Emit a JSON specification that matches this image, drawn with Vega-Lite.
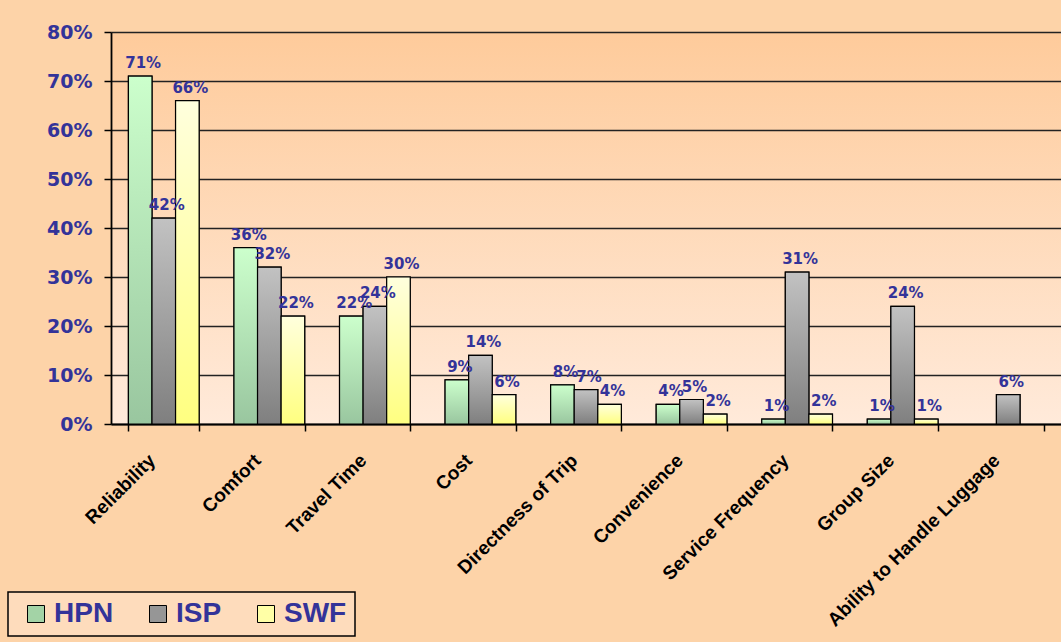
{
  "$schema": "https://vega.github.io/schema/vega-lite/v6.json",
  "width": 950,
  "height": 392,
  "autosize": {"type": "none"},
  "padding": {"left": 111, "top": 32, "right": 0, "bottom": 218},
  "background": "#FDD3A8",
  "config": {
    "view": {
      "stroke": null,
      "fill": {
        "gradient": "linear",
        "x1": 0, "y1": 0, "x2": 0, "y2": 1,
        "stops": [
          {"offset": 0, "color": "#FECB9B"},
          {"offset": 1, "color": "#FFEADA"}
        ]
      }
    },
    "legend": {"strokeWidth": 1.5}
  },
  "data": {
    "values": [
      {"factor": "Reliability", "series": "HPN", "share": 0.71},
      {"factor": "Reliability", "series": "ISP", "share": 0.42},
      {"factor": "Reliability", "series": "SWF", "share": 0.66},
      {"factor": "Comfort", "series": "HPN", "share": 0.36},
      {"factor": "Comfort", "series": "ISP", "share": 0.32},
      {"factor": "Comfort", "series": "SWF", "share": 0.22},
      {"factor": "Travel Time", "series": "HPN", "share": 0.22},
      {"factor": "Travel Time", "series": "ISP", "share": 0.24},
      {"factor": "Travel Time", "series": "SWF", "share": 0.30},
      {"factor": "Cost", "series": "HPN", "share": 0.09},
      {"factor": "Cost", "series": "ISP", "share": 0.14},
      {"factor": "Cost", "series": "SWF", "share": 0.06},
      {"factor": "Directness of Trip", "series": "HPN", "share": 0.08},
      {"factor": "Directness of Trip", "series": "ISP", "share": 0.07},
      {"factor": "Directness of Trip", "series": "SWF", "share": 0.04},
      {"factor": "Convenience", "series": "HPN", "share": 0.04},
      {"factor": "Convenience", "series": "ISP", "share": 0.05},
      {"factor": "Convenience", "series": "SWF", "share": 0.02},
      {"factor": "Service Frequency", "series": "HPN", "share": 0.01},
      {"factor": "Service Frequency", "series": "ISP", "share": 0.31},
      {"factor": "Service Frequency", "series": "SWF", "share": 0.02},
      {"factor": "Group Size", "series": "HPN", "share": 0.01},
      {"factor": "Group Size", "series": "ISP", "share": 0.24},
      {"factor": "Group Size", "series": "SWF", "share": 0.01},
      {"factor": "Ability to Handle Luggage", "series": "ISP", "share": 0.06}
    ]
  },
  "encoding": {
    "x": {
      "field": "factor",
      "type": "nominal",
      "sort": null,
      "scale": {"paddingInner": 0.33, "paddingOuter": 0.165},
      "axis": {
        "title": null,
        "labelAngle": -45,
        "labelAlign": "right",
        "labelBaseline": "middle",
        "labelFont": "Liberation Sans",
        "labelFontSize": 19,
        "labelFontWeight": "bold",
        "labelColor": "#000000",
        "labelPadding": 26,
        "labelOffset": -12,
        "labelLimit": 400,
        "labelOverlap": false,
        "labelBound": false,
        "tickBand": "extent",
        "tickSize": 7,
        "tickWidth": 1.5,
        "tickColor": "#000000",
        "domainColor": "#000000",
        "domainWidth": 1.8
      }
    },
    "xOffset": {
      "field": "series",
      "type": "nominal",
      "sort": ["HPN", "ISP", "SWF"],
      "scale": {"paddingInner": 0, "paddingOuter": 0}
    },
    "y": {
      "field": "share",
      "type": "quantitative",
      "scale": {"domain": [0, 0.8], "nice": false},
      "axis": {
        "title": null,
        "values": [0, 0.1, 0.2, 0.3, 0.4, 0.5, 0.6, 0.7, 0.8],
        "format": ".0%",
        "labelFont": "DejaVu Sans",
        "labelFontSize": 19,
        "labelFontWeight": "bold",
        "labelColor": "#333399",
        "labelPadding": 12,
        "grid": true,
        "gridColor": "#222222",
        "gridWidth": 1.5,
        "domainColor": "#000000",
        "domainWidth": 1.8,
        "tickColor": "#000000",
        "tickSize": 7,
        "tickWidth": 1.5
      }
    }
  },
  "layer": [
    {
      "mark": {"type": "bar", "stroke": "#000000", "strokeWidth": 1.2},
      "encoding": {
        "color": {
          "field": "series",
          "type": "nominal",
          "sort": ["HPN", "ISP", "SWF"],
          "scale": {"domain": ["HPN", "ISP", "SWF"], "range": ["#A3D3A6", "#969696", "#FFFFA6"]},
          "legend": {
            "title": null,
            "orient": "none",
            "legendX": -103,
            "legendY": 560,
            "direction": "horizontal",
            "symbolType": "square",
            "symbolSize": 289,
            "symbolStrokeColor": "#000000",
            "symbolStrokeWidth": 1,
            "symbolOffset": 6,
            "labelFont": "Liberation Sans",
            "labelFontSize": 28,
            "labelFontWeight": "bold",
            "labelColor": "#333399",
            "labelOffset": 4,
            "columnPadding": 24,
            "padding": 8,
            "fillColor": "#FEDCBC",
            "strokeColor": "#000000"
          }
        }
      }
    },
    {
      "mark": {"type": "bar", "stroke": "#000000", "strokeWidth": 1.2},
      "encoding": {
        "fill": {
          "condition": [
            {
              "test": "datum.series === 'HPN'",
              "value": {
                "gradient": "linear", "x1": 0, "y1": 0, "x2": 0, "y2": 1,
                "stops": [{"offset": 0, "color": "#CCFFCC"}, {"offset": 1, "color": "#99C69F"}]
              }
            },
            {
              "test": "datum.series === 'ISP'",
              "value": {
                "gradient": "linear", "x1": 0, "y1": 0, "x2": 0, "y2": 1,
                "stops": [{"offset": 0, "color": "#C2C2C2"}, {"offset": 1, "color": "#7F7F7F"}]
              }
            }
          ],
          "value": {
            "gradient": "linear", "x1": 0, "y1": 0, "x2": 0, "y2": 1,
            "stops": [{"offset": 0, "color": "#FFFFDD"}, {"offset": 1, "color": "#FFFF80"}]
          }
        }
      }
    },
    {
      "mark": {
        "type": "text",
        "font": "DejaVu Sans",
        "fontWeight": "bold",
        "fontSize": 15,
        "color": "#333399",
        "baseline": "alphabetic",
        "dy": -8,
        "dx": 3
      },
      "encoding": {
        "text": {"field": "share", "type": "quantitative", "format": ".0%"}
      }
    }
  ]
}
